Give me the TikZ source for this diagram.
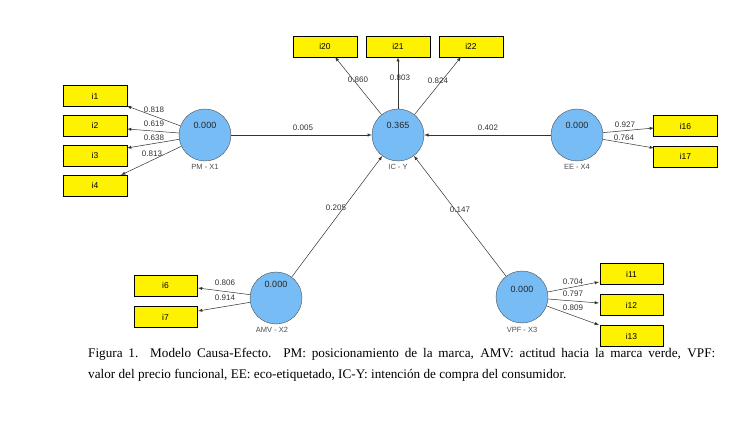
\documentclass[tikz,border=0pt]{standalone}
\usepackage{fontspec}
\setmainfont{Liberation Serif}
\newfontfamily\lab{Liberation Sans}
\definecolor{lvc}{RGB}{120,188,245}
\begin{document}
\begin{tikzpicture}[x=1pt,y=-1pt,
 lv/.style={circle,draw=black!70,fill=lvc,minimum size=52pt,inner sep=0pt},
 mv/.style={draw=black,fill=yellow,minimum width=64pt,minimum height=21pt,inner sep=0pt,font=\lab\fontsize{8.5}{8.5}\selectfont},
 ar/.style={-latex,draw=black!80,line width=0.5pt},
 nm/.style={font=\lab\fontsize{7.5}{7.5}\selectfont,text=black!70},
 val/.style={font=\lab\fontsize{9}{9}\selectfont,text=black!85,inner sep=0pt},
 w/.style={font=\lab\fontsize{8}{8}\selectfont,text=black!80,inner sep=1pt}]
\useasboundingbox (0,0) rectangle (732,425);
\node[lv] (PM) at (205,135) {}; \node[val] (vPM) at (205,125) {0.000};
\node[lv] (IC) at (398,135) {}; \node[val] (vIC) at (398,125) {0.365};
\node[lv] (EE) at (577,135) {}; \node[val] (vEE) at (577,125) {0.000};
\node[lv] (AMV) at (276,298) {}; \node[val] (vAMV) at (276,284) {0.000};
\node[lv] (VPF) at (522,297) {}; \node[val] (vVPF) at (522,289) {0.000};
\node[nm] (lPM) at (205,167) {PM - X1};
\node[nm] (lIC) at (398,167) {IC - Y};
\node[nm] (lEE) at (577,167) {EE - X4};
\node[nm] (lAMV) at (272,330) {AMV - X2};
\node[nm] (lVPF) at (522,330) {VPF - X3};
\node[mv] (i1) at (95,96) {i1};
\node[mv] (i2) at (95,125.5) {i2};
\node[mv] (i3) at (95,155.5) {i3};
\node[mv] (i4) at (95,185.5) {i4};
\node[mv] (i20) at (325,46.5) {i20};
\node[mv] (i21) at (398,46.5) {i21};
\node[mv] (i22) at (471,46.5) {i22};
\node[mv] (i16) at (685.5,126) {i16};
\node[mv] (i17) at (685.5,156.5) {i17};
\node[mv,minimum width=63pt] (i6) at (165.5,285.5) {i6};
\node[mv,minimum width=63pt] (i7) at (165.5,317) {i7};
\node[mv,minimum width=63pt] (i11) at (631.5,274) {i11};
\node[mv,minimum width=63pt] (i12) at (631.5,305) {i12};
\node[mv,minimum width=63pt] (i13) at (631.5,336) {i13};
\coordinate (c1) at (127,106); \coordinate (c2) at (127,129);
\coordinate (c3) at (127,148); \coordinate (c4) at (121,175);
\draw[ar] (PM) -- (c1); \draw[ar] (PM) -- (c2); \draw[ar] (PM) -- (c3); \draw[ar] (PM) -- (c4);
\coordinate (c20) at (335,57); \coordinate (c22) at (461,57);
\draw[ar] (IC) -- (c20); \draw[ar] (IC) -- (i21); \draw[ar] (IC) -- (c22);
\coordinate (c16) at (654,128); \coordinate (c17) at (654,148);
\draw[ar] (EE) -- (c16); \draw[ar] (EE) -- (c17);
\coordinate (c6) at (198,288); \coordinate (c7) at (198,311);
\draw[ar] (AMV) -- (c6); \draw[ar] (AMV) -- (c7);
\coordinate (c11) at (599,282); \coordinate (c12) at (599,303); \coordinate (c13) at (599,325);
\draw[ar] (VPF) -- (c11); \draw[ar] (VPF) -- (c12); \draw[ar] (VPF) -- (c13);
\draw[ar] (PM) -- (IC); \draw[ar] (EE) -- (IC); \draw[ar] (AMV) -- (IC); \draw[ar] (VPF) -- (IC);
\node[w] at (154,110) {0.818}; \node[w] at (154,124) {0.619};
\node[w] at (154,138) {0.638}; \node[w] at (152,154) {0.813};
\node[w] at (358,80) {0.860}; \node[w] at (400,78) {0.803}; \node[w] at (438,81) {0.824};
\node[w] at (625,125) {0.927}; \node[w] at (624,138) {0.764};
\node[w] at (225,283) {0.806}; \node[w] at (225,298) {0.914};
\node[w] at (573,282) {0.704}; \node[w] at (573,294) {0.797}; \node[w] at (573,308) {0.809};
\node[w] at (303,128) {0.005}; \node[w] at (488,128) {0.402};
\node[w] at (336,208) {0.205}; \node[w] at (460,210) {0.147};
\node[anchor=north west,inner sep=0pt,text width=627pt,align=justify,font=\fontsize{13.2}{21}\selectfont] (cap) at (88,348.5)
 {Figura 1. Modelo Causa-Efecto. PM: posicionamiento de la marca, AMV: actitud hacia la marca verde, VPF:\linebreak valor del precio funcional, EE: eco-etiquetado, IC-Y: intención de compra del consumidor.};
\end{tikzpicture}
\end{document}
